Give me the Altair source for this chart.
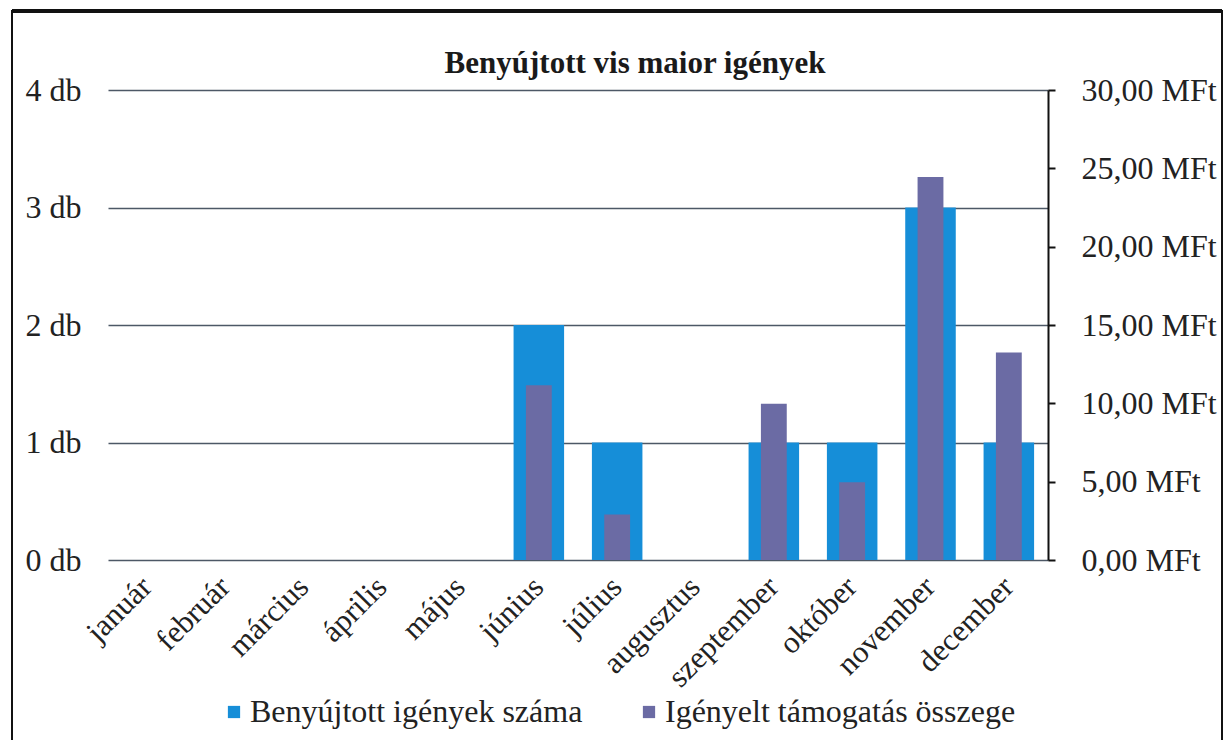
import altair as alt
import pandas as pd

title_text = "Benyújtott vis maior igények"
months = ["január", "február", "március", "április", "május", "június",
          "július", "augusztus", "szeptember", "október", "november", "december"]
counts = [0, 0, 0, 0, 0, 2, 1, 0, 1, 1, 3, 1]
amounts = [0, 0, 0, 0, 0, 11.15, 2.9, 0, 9.97, 4.96, 24.45, 13.25]
series = ["Benyújtott igények száma", "Igényelt támogatás összege"]
colors = ["#168ed8", "#6b6ba4"]
count_ticks = [0, 1, 2, 3, 4]
amount_ticks = [0, 5, 10, 15, 20, 25, 30]

df = pd.DataFrame({"honap": months, "db": counts, "mft": amounts})

FONT = "Times New Roman, Liberation Serif, serif"
TXT = "#222222"

x_enc = alt.X(
    "honap:N", sort=months,
    scale=alt.Scale(paddingInner=0, paddingOuter=0),
    axis=alt.Axis(title=None, labelAngle=-45, labelAlign="right", labelBaseline="middle",
                  labelFont=FONT, labelFontSize=31, labelColor=TXT, ticks=False,
                  domain=False, labelPadding=22, labelOverlap=False, labelLimit=400),
)

color_enc = alt.Color(
    "sorozat:N",
    scale=alt.Scale(domain=series, range=colors),
    legend=alt.Legend(orient="none", legendX=110, legendY=606, direction="horizontal",
                      title=None, symbolType="square", symbolSize=150, symbolStrokeWidth=0,
                      labelFont=FONT, labelFontSize=32, labelColor=TXT, labelOffset=0,
                      columnPadding=50, padding=0, labelLimit=600),
)

blue = alt.Chart(df).transform_calculate(sorozat=f'"{series[0]}"').mark_bar(
    width=alt.RelativeBandSize(0.645)
).encode(
    x=x_enc,
    y=alt.Y("db:Q", scale=alt.Scale(domain=[0, 4], nice=False),
            axis=alt.Axis(title=None, values=count_ticks, labelExpr="datum.value + ' db'",
                          labelFont=FONT, labelFontSize=32, labelColor=TXT, ticks=False,
                          domain=False, grid=True, gridColor="#4d5866", gridWidth=1.5,
                          labelPadding=27)),
    color=color_enc,
)

purple = alt.Chart(df).transform_calculate(sorozat=f'"{series[1]}"').mark_bar(
    width=alt.RelativeBandSize(0.33)
).encode(
    x=x_enc,
    y=alt.Y("mft:Q", scale=alt.Scale(domain=[0, 30], nice=False),
            axis=alt.Axis(title=None, orient="right", values=amount_ticks,
                          labelExpr="replace(format(datum.value, '.2f'), '.', ',') + ' MFt'",
                          labelFont=FONT, labelFontSize=32, labelColor=TXT,
                          ticks=True, tickSize=7, tickColor="#111111", tickWidth=2,
                          domain=True, domainColor="#111111", domainWidth=2,
                          grid=False, labelPadding=26)),
    color=color_enc,
)

one = pd.DataFrame({"a": [0]})

frame = alt.Chart(one).mark_rect(filled=False, stroke="#111111", strokeWidth=2).encode(
    x=alt.value(-96), x2=alt.value(1114), y=alt.value(-79), y2=alt.value(655)
)
top_rule = alt.Chart(one).mark_rule(stroke="#111111", strokeWidth=4).encode(
    x=alt.value(-96), x2=alt.value(1114), y=alt.value(-79)
)

title = alt.Chart(one).mark_text(
    font=FONT, fontSize=31, fontWeight="bold", align="center", baseline="alphabetic",
    color="#1a1a1a"
).encode(x=alt.value(527), y=alt.value(-17), text=alt.value(title_text))

chart = alt.layer(frame, top_rule, title, blue, purple).resolve_scale(
    y="independent"
).properties(
    width=940, height=470,
    padding={"left": 100, "top": 82, "right": 175, "bottom": 180},
    autosize=alt.AutoSizeParams(type="none"),
    background="white",
).configure_view(stroke=None)

chart.save("out.html", embed_options={"renderer": "svg", "actions": False})
